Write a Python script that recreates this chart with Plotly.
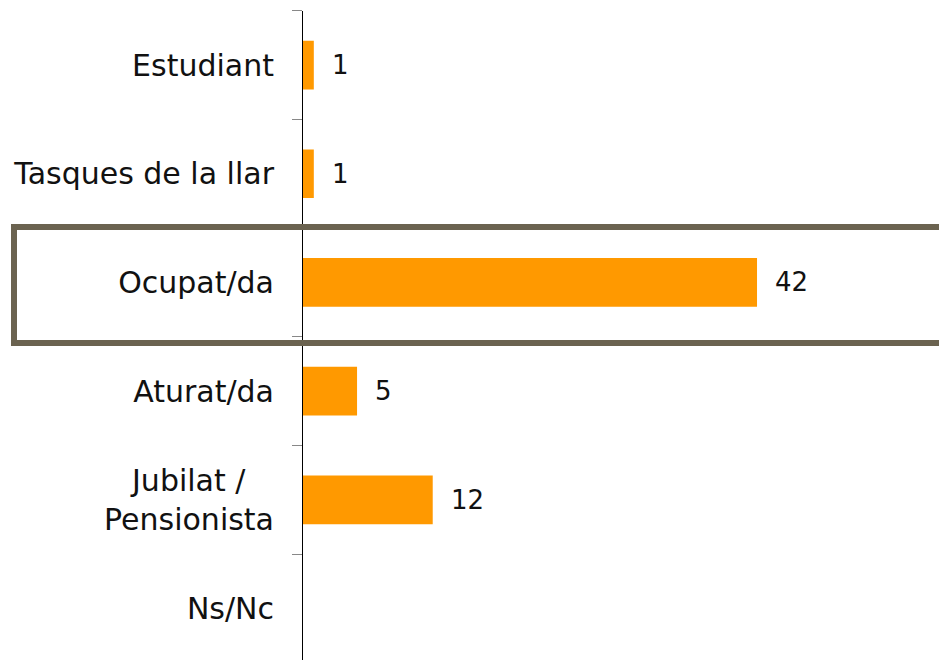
import plotly.graph_objects as go

categories = ["Estudiant", "Tasques de la llar", "Ocupat/da", "Aturat/da",
              "Jubilat /\u00a0\u00a0\u00a0<br>Pensionista", "Ns/Nc"]
values = [1, 1, 42, 5, 12, None]

FONT = "DejaVu Sans"
BAR_COLOR = "#FF9900"
BOX_COLOR = "#6B6350"

OFF = 8  # page body margin
W, H = 947 - OFF, 660 - OFF
axis_px = 303 - OFF
top_px = 10.7 - OFF
band_px = 108.7
scale_px = 10.81  # px per unit

x_max = (W - axis_px) / scale_px
n_bands_visible = (H - top_px) / band_px

fig = go.Figure()
fig.add_trace(go.Bar(
    x=values, y=categories, orientation="h",
    marker=dict(color=BAR_COLOR, line=dict(width=0)),
    width=0.448, hoverinfo="skip",
))

for cat, v in zip(categories, values):
    if v is None:
        continue
    fig.add_annotation(x=v, y=cat, text=str(v), showarrow=False,
                       xanchor="left", yanchor="middle", xshift=16,
                       font=dict(family=FONT, size=26, color="#111111"))

box_x0 = 14 - OFF
box_top = 227 - OFF
box_bot = 343 - OFF
fig.add_shape(type="rect", xref="paper", yref="paper",
              x0=(box_x0 - axis_px) / (W - axis_px), x1=1.05,
              y0=(H - box_bot) / H, y1=(H - box_top) / H,
              line=dict(color=BOX_COLOR, width=6), fillcolor="rgba(0,0,0,0)",
              layer="above")

fig.update_layout(
    width=W, height=H,
    margin=dict(l=axis_px, r=0, t=0, b=0, autoexpand=False),
    paper_bgcolor="white", plot_bgcolor="white",
    showlegend=False,
    xaxis=dict(range=[0, x_max], visible=False, fixedrange=True),
    yaxis=dict(
        type="category",
        categoryorder="array", categoryarray=categories,
        range=[-0.5 + n_bands_visible, -0.5],
        domain=[0, 1 - top_px / H],
        showline=True, linecolor="black", linewidth=1,
        showgrid=False, zeroline=False,
        ticks="outside", tickson="boundaries", ticklen=10,
        tickcolor="#888888", tickwidth=1,
        ticklabelstandoff=22,
        tickfont=dict(family=FONT, size=30, color="#111111"),
        automargin=False,
    ),
)

fig.write_html("out.html")
